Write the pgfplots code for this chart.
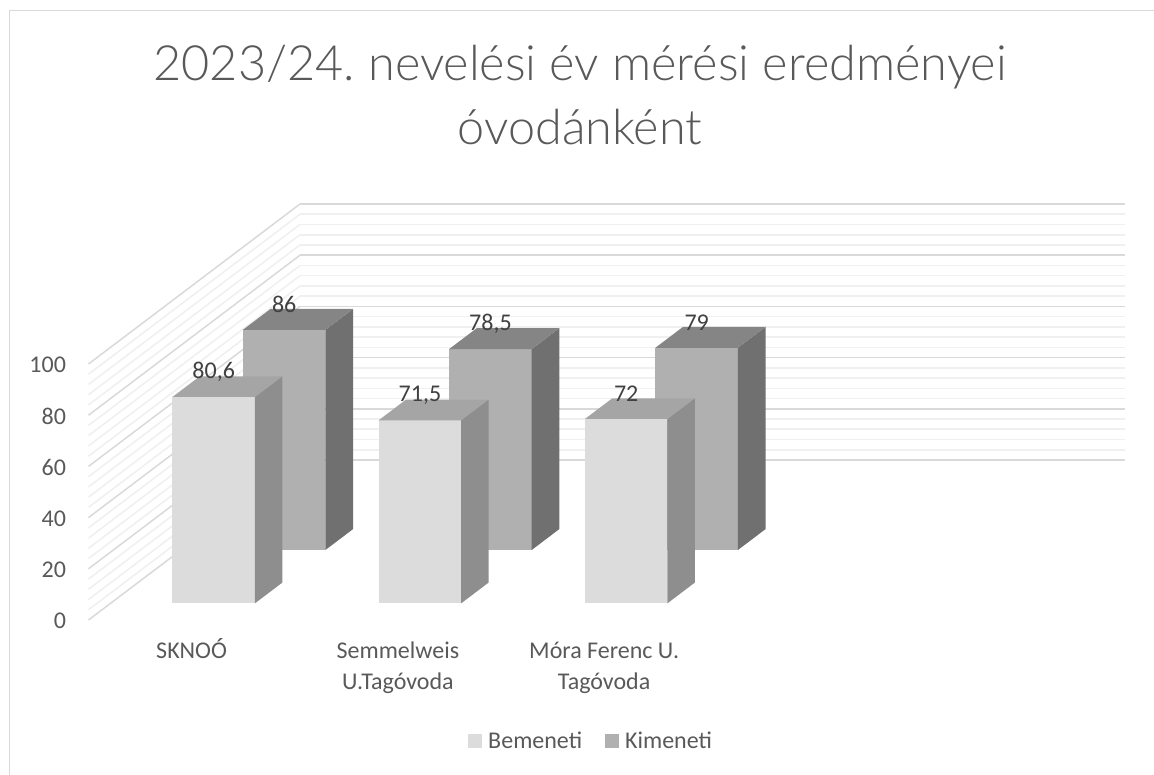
\documentclass[border=0pt]{standalone}
\usepackage{fontspec}
\setmainfont{Carlito}
\newfontfamily\titlefont{Lato Light}
\usepackage{pgfplots}
\pgfplotsset{compat=1.18}
\definecolor{fa}{HTML}{DCDCDC}\definecolor{sa}{HTML}{8E8E8E}\definecolor{ta}{HTML}{A5A5A5}
\definecolor{fb}{HTML}{B0B0B0}\definecolor{sb}{HTML}{707070}\definecolor{tb}{HTML}{858585}
\definecolor{txt}{HTML}{595959}\definecolor{lab}{HTML}{404040}
\definecolor{gmaj}{HTML}{D9D9D9}\definecolor{gmin}{HTML}{F0F0F0}
\newcommand{\st}{\rule{0pt}{20pt}}
% x0 x1 y0 y1 value front side top
\newcommand{\barfaces}[8]{%
  \addplot3[fill=#6,draw=none,forget plot] coordinates {(#1,#3,0) (#2,#3,0) (#2,#3,#5) (#1,#3,#5)};
  \addplot3[fill=#7,draw=none,forget plot] coordinates {(#2,#3,0) (#2,#4,0) (#2,#4,#5) (#2,#3,#5)};
  \addplot3[fill=#8,draw=none,forget plot] coordinates {(#1,#3,#5) (#2,#3,#5) (#2,#4,#5) (#1,#4,#5)};
}
\begin{document}
\frenchspacing
\begin{tikzpicture}[x=1pt,y=1pt]
\path[use as bounding box] (0,0) rectangle (1154,774);
\draw[gmaj,line width=1.6pt] (9.5,-5) -- (9.5,763.5) -- (1160,763.5);
\begin{axis}[
  at={(88.5pt,154pt)},anchor=origin,
  x={(206.25pt,0pt)},y={(1.322pt,1pt)},z={(0pt,2.56pt)},
  xmin=0,xmax=4,ymin=0,ymax=160,zmin=0,zmax=100,
  clip=false,
  axis lines=left,axis line style={draw=none,-},
  xtick={0.5,1.5,2.5},
  xticklabels={\st SKNOÓ,\st Semmelweis\\U.Tagóvoda,\st Móra Ferenc U.\\Tagóvoda},
  ytick=\empty,
  ztick={0,20,40,60,80,100},
  minor z tick num=4,
  zmajorgrids,zminorgrids,
  major z grid style={gmaj,line width=1.5pt},
  minor z grid style={gmin,line width=1.6pt},
  major tick length=0pt,minor tick length=0pt,
  tick label style={font=\fontsize{24}{31}\selectfont,text=txt},
  x tick label style={align=center,anchor=north,yshift=-15pt},
  z tick label style={anchor=east,xshift=-19pt,yshift=-1pt},
  /pgf/number format/assume math mode=true,
  legend columns=2,
  legend style={at={(axis cs:2.437,0,-47.3)},anchor=center,draw=none,fill=none,
    font=\fontsize{24}{28}\selectfont,text=txt,
    /tikz/every even column/.append style={column sep=21pt}},
  legend image code/.code={\fill[#1] (0pt,-7pt) rectangle (14pt,7pt);\path (18pt,0pt);},
]
% rear series (Kimeneti)
\barfaces{0.3}{0.7}{70}{91}{86}{fb}{sb}{tb}
\barfaces{1.3}{1.7}{70}{91}{78.5}{fb}{sb}{tb}
\barfaces{2.3}{2.7}{70}{91}{79}{fb}{sb}{tb}
% front series (Bemeneti)
\barfaces{0.3}{0.7}{16.7}{37.4}{80.6}{fa}{sa}{ta}
\barfaces{1.3}{1.7}{16.7}{37.4}{71.5}{fa}{sa}{ta}
\barfaces{2.3}{2.7}{16.7}{37.4}{72}{fa}{sa}{ta}
\addplot3[draw=none,forget plot,point meta=explicit symbolic,
  nodes near coords={\pgfplotspointmeta},
  every node near coord/.style={anchor=center,yshift=25pt,text=lab,font=\fontsize{24}{26}\selectfont}]
  coordinates {(0.5,70,86)[86] (1.5,70,78.5)[{78,5}] (2.5,70,79)[79]
   (0.5,16.7,80.6)[{80,6}] (1.5,16.7,71.5)[{71,5}] (2.5,16.7,72)[72]};
\addlegendimage{fill=fa,draw=none}\addlegendentry{Bemeneti}
\addlegendimage{fill=fb,draw=none}\addlegendentry{Kimeneti}
\end{axis}
\node[align=center,text=txt,font=\titlefont\fontsize{48.6}{64}\selectfont] at (580,679) {2023/24. nevelési év mérési eredményei\\óvodánként};
\end{tikzpicture}
\end{document}
